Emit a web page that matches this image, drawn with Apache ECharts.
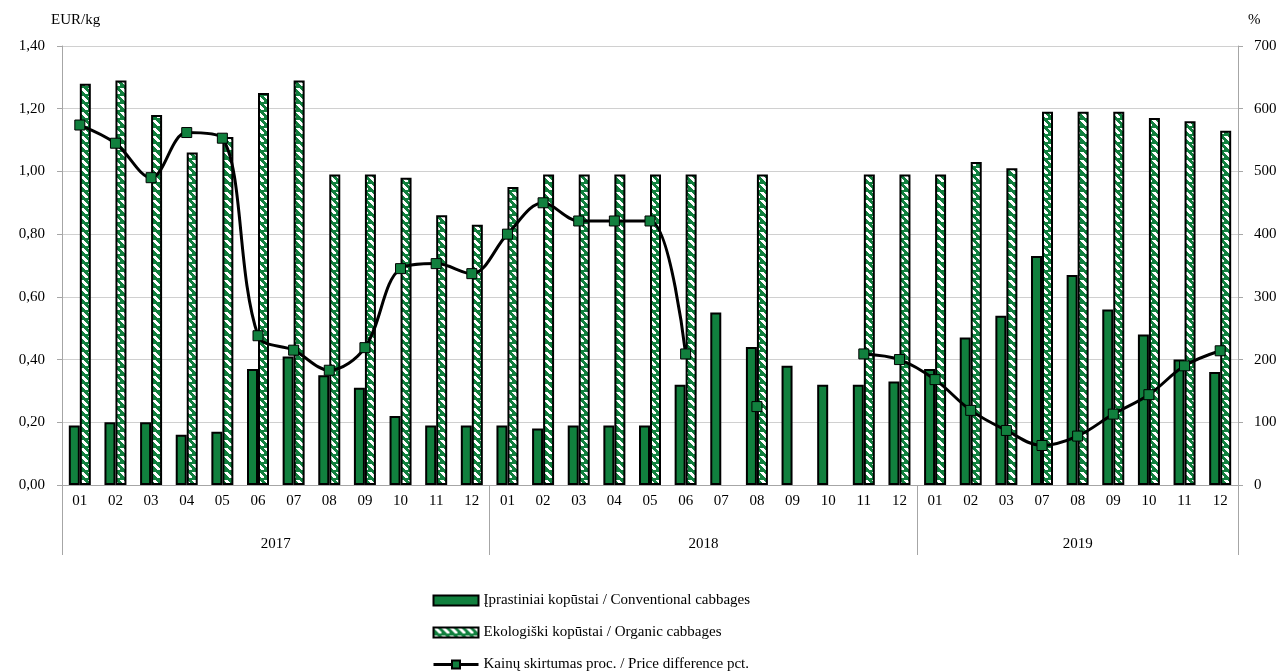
<!DOCTYPE html>
<html>
<head>
<meta charset="utf-8">
<script src="https://cdn.jsdelivr.net/npm/echarts@6/dist/echarts.min.js"></script>
<style>
html, body { margin: 0; padding: 0; background: #fff; }
#main { width: 1283px; height: 671px; }
</style>
</head>
<body>
<div id="main"></div>
<script>
// duomenys
var years = ['2017', '2018', '2019'];
var months2017 = ['01', '02', '03', '04', '05', '06', '07', '08', '09', '10', '11', '12'];
var months2018 = ['01', '02', '03', '04', '05', '06', '07', '08', '09', '10', '11', '12'];
var months2019 = ['01', '02', '03', '07', '08', '09', '10', '11', '12'];

var conventional = [
	0.19, 0.20, 0.20, 0.16, 0.17, 0.37, 0.41, 0.35, 0.31, 0.22, 0.19, 0.19,
	0.19, 0.18, 0.19, 0.19, 0.19, 0.32, 0.55, 0.44, 0.38, 0.32, 0.32, 0.33,
	0.37, 0.47, 0.54, 0.73, 0.67, 0.56, 0.48, 0.40, 0.36
];
var organic = [
	1.28, 1.29, 1.18, 1.06, 1.11, 1.25, 1.29, 0.99, 0.99, 0.98, 0.86, 0.83,
	0.95, 0.99, 0.99, 0.99, 0.99, 0.99, null, 0.99, null, null, 0.99, 0.99,
	0.99, 1.03, 1.01, 1.19, 1.19, 1.19, 1.17, 1.16, 1.13
];
var priceDiff = [
	574, 545, 490, 562, 553, 238, 215, 183, 219, 345, 353, 337,
	400, 450, 421, 421, 421, 209, null, 125, null, null, 209, 200,
	168, 119, 87, 63, 78, 113, 144, 190, 214
];

var monthGroups = [months2017, months2018, months2019];
var GREEN = '#11803e';
var FONT = 'Liberation Serif';

// kategorijos su unikaliais raktais
var categories = [];
monthGroups.forEach(function(ms, yi) {
	ms.forEach(function(m) { categories.push(years[yi] + '-' + m); });
});

// metų ašis: pusės kategorijos žingsnis
var yearSlots = [];
var yearLabelAt = {};
var yearTickAt = {};
var start = 0;
yearTickAt[0] = true;
monthGroups.forEach(function(ms, yi) {
	yearLabelAt[2 * start + ms.length] = years[yi];
	start += ms.length;
	yearTickAt[2 * start] = true;
});
for (var i = 0; i <= 2 * start; i++) {
	yearSlots.push('s' + i);
}

// dryžuotas raštas (balti brūkšniai "\")
function makePattern() {
	var c = document.createElement('canvas');
	c.width = 8;
	c.height = 8;
	var ctx = c.getContext('2d');
	ctx.fillStyle = GREEN;
	ctx.fillRect(0, 0, 8, 8);
	ctx.fillStyle = '#ffffff';
	for (var r = 0; r < 6; r++) {
		ctx.fillRect(r, r, 4, 1);
	}
	return c;
}
var pattern = { image: makePattern(), repeat: 'repeat' };

var myChart = echarts.init(document.getElementById('main'));
var option = {
	animation: false,
	title: [{
		text: 'EUR/kg',
		left: 46,
		top: 8,
		textStyle: { fontFamily: FONT, fontSize: 15, fontWeight: 'normal', color: '#000' }
	}, {
		text: '%',
		left: 1243,
		top: 8,
		textStyle: { fontFamily: FONT, fontSize: 15, fontWeight: 'normal', color: '#000' }
	}],
	grid: {
		left: 62,
		right: 45,
		top: 46,
		bottom: 186
	},
	legend: {
		orient: 'vertical',
		left: 432,
		top: 593,
		height: 100,
		padding: 0,
		itemGap: 17,
		itemWidth: 45,
		itemHeight: 10,
		textStyle: { fontFamily: FONT, fontSize: 15, color: '#000' },
		data: [
			{ name: 'Įprastiniai kopūstai / Conventional cabbages', icon: 'rect' },
			{ name: 'Ekologiški kopūstai / Organic cabbages', icon: 'rect' },
			{ name: 'Kainų skirtumas proc. / Price difference pct.', lineStyle: { width: 3 } }
		]
	},
	xAxis: [{
		type: 'category',
		data: categories,
		axisLine: { lineStyle: { color: '#a6a6a6', width: 1 } },
		axisTick: { interval: 0, length: 35, lineStyle: { color: '#a6a6a6' } },
		axisLabel: {
			interval: 0,
			margin: 9,
			fontFamily: FONT,
			fontSize: 15,
			color: '#000',
			formatter: function(v) { return v.split('-')[1]; }
		},
		splitLine: { show: false }
	}, {
		type: 'category',
		position: 'bottom',
		boundaryGap: false,
		data: yearSlots,
		axisLine: { show: false },
		axisTick: {
			length: 70,
			interval: function(idx) { return !!yearTickAt[idx]; },
			lineStyle: { color: '#a6a6a6' }
		},
		axisLabel: {
			margin: 52,
			fontFamily: FONT,
			fontSize: 15,
			color: '#000',
			interval: function(idx) { return yearLabelAt[idx] !== undefined; },
			formatter: function(v, idx) { return yearLabelAt[idx] || ''; }
		},
		splitLine: { show: false }
	}],
	yAxis: [{
		type: 'value',
		min: 0,
		max: 1.4,
		interval: 0.2,
		axisLine: { show: true, lineStyle: { color: '#a6a6a6' } },
		axisTick: { show: true, length: 5, lineStyle: { color: '#a6a6a6' } },
		axisLabel: {
			margin: 17,
			fontFamily: FONT,
			fontSize: 15,
			color: '#000',
			formatter: function(v) { return v.toFixed(2).replace('.', ','); }
		},
		splitLine: { lineStyle: { color: '#d0d0d0', width: 1 } }
	}, {
		type: 'value',
		min: 0,
		max: 700,
		interval: 100,
		axisLine: { show: true, lineStyle: { color: '#a6a6a6' } },
		axisTick: { show: true, length: 5, lineStyle: { color: '#a6a6a6' } },
		axisLabel: {
			margin: 16,
			fontFamily: FONT,
			fontSize: 15,
			color: '#000'
		},
		splitLine: { show: false }
	}],
	series: [{
		name: 'Įprastiniai kopūstai / Conventional cabbages',
		type: 'bar',
		data: conventional,
		barWidth: 11,
		barGap: '0%',
		itemStyle: { color: GREEN, borderColor: '#000', borderWidth: 2 }
	}, {
		name: 'Ekologiški kopūstai / Organic cabbages',
		type: 'bar',
		data: organic,
		barWidth: 11,
		barGap: '0%',
		itemStyle: { color: pattern, borderColor: '#000', borderWidth: 2 }
	}, {
		name: 'Kainų skirtumas proc. / Price difference pct.',
		type: 'line',
		yAxisIndex: 1,
		data: priceDiff,
		smooth: 0.35,
		connectNulls: false,
		showAllSymbol: true,
		symbol: 'rect',
		symbolSize: 10,
		z: 5,
		lineStyle: { color: '#000', width: 3 },
		itemStyle: { color: GREEN, borderColor: '#000', borderWidth: 1 }
	}]
};
myChart.setOption(option);
</script>
</body>
</html>
